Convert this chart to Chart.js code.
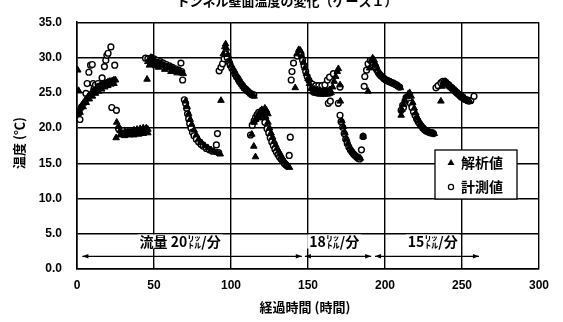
<!DOCTYPE html>
<html>
<head>
<meta charset="utf-8">
<script src="https://cdn.jsdelivr.net/npm/chart.js@4"></script>
<style>
    html, body { margin: 0; padding: 0; background: #fff; }
    #wrap { width: 563px; height: 322px; }
</style>
</head>
<body>
<div id="wrap"><canvas id="tempChart" width="563" height="322"></canvas></div>
<script>
    // --- DATA ---
    const xTicks = [0, 50, 100, 150, 200, 250, 300];
    const yTicks = [0, 5, 10, 15, 20, 25, 30, 35];

    // 解析値 (triangles)  [hours, degC]
    const analysisPoints = [
        [0.5,28.2],[1,25.3],[0.8,22.0],[1.5,22.4],[2,22.8],[3,23.2],[4,23.5],[5,23.8],[6,24.1],[7,24.4],
        [8,24.6],[9,24.9],[10,25.1],[11,25.3],[12,25.5],[13,25.7],[14,25.8],[15,26.0],[16,26.1],[17,26.2],
        [18,26.3],[19,26.4],[20,26.5],[21,26.6],[22,26.6],[23,26.7],[24,26.8],[25,26.8],
        [2,22.2],[4,23.0],[6,23.6],[8,24.1],[10,24.5],[12,24.9],[14,25.2],[16,25.5],[18,25.8],[20,26.0],[22,26.2],[24,26.3],
        [25.4,18.6],[25.8,20.8],[27,20.2],[28,19.6],[29,19.3],[30,19.2],[31,19.4],[32,19.1],[33,19.5],[34,19.2],
        [35,19.6],[36,19.3],[37,19.7],[38,19.4],[39,19.8],[40,19.5],[41,19.9],[42,19.6],[43,20.0],[44,19.7],[45,20.0],[46,19.8],
        [28,19.0],[31,18.9],[34,19.0],[37,19.0],[40,19.1],[43,19.2],[46,19.3],
        [45.5,26.9],[46,29.4],[47,29.8],[48,30.0],[49,29.9],[50,29.6],[51,29.4],[52,29.3],[53,29.2],[54,29.1],
        [55,29.0],[56,28.9],[57,28.8],[58,28.7],[59,28.6],[60,28.5],[61,28.5],[62,28.4],[63,28.3],[64,28.2],
        [65,28.1],[66,28.0],[67,27.9],[68,27.8],[69,27.7],[47,28.9],[49,29.0],[51,28.8],[53,28.6],[57,28.3],[61,28.0],[65,27.8],
        [70.5,23.8],[71.5,23.0],[72.5,22.0],[73.5,21.2],[74.5,20.5],[76,19.7],[77.5,19.0],[79,18.4],[81,17.9],
        [83,17.5],[85,17.2],[87,16.9],[89,16.7],[91,16.5],[93,16.3],[93.5,23.9],
        [95,30.5],[96,31.5],[96.5,31.9],[97,31.3],[98,30.4],[99,29.6],[100,28.9],[101,28.4],[102,28.0],[103,27.6],
        [104,27.2],[105,26.8],[106,26.5],[107,26.2],[108,25.9],[109,25.6],[110,25.4],[111,25.2],[112,25.0],
        [113,24.8],[114,24.6],[115,24.5],
        [114.8,17.4],[115.9,15.9],[113.5,19.1],[115,20.8],[116,21.2],[117,21.6],[118,22.0],[119,22.4],[120,22.6],
        [121,22.3],[122,22.8],[123,22.5],[124,22.0],[118.5,21.4],[120.5,21.8],[122.5,21.6],
        [124,20.8],[125,20.0],[126,19.3],[127,18.7],[128,18.1],[129,17.6],[130,17.1],[131,16.7],[132,16.3],
        [133,15.9],[134,15.5],[135,15.2],[136,14.9],[137,14.6],[138,14.4],
        [141.7,25.7],[143,30.5],[144,31.1],[145,31.0],[146,30.2],[147,29.3],[148,28.5],[149,27.7],[150,27.0],
        [151,26.3],[152,25.6],[153,25.2],[154,25.0],[155,24.9],[156,24.9],[157,24.8],[158,24.8],[159,24.8],
        [160,24.8],[161,24.8],[162,24.8],[163,24.8],[164,24.9],[164.3,25.4],
        [154,25.5],[156,25.4],[158,25.3],[160,25.3],[162,25.3],[164,25.4],
        [165,25.0],[166,25.8],[167,26.6],[168,27.3],[169,28.0],[169.7,28.4],[170.8,26.1],[171,23.8],
        [172,21.0],[173,20.2],[174,19.3],[175,18.5],[176,17.8],[177,17.3],[178,16.9],[179,16.6],[180,16.3],
        [181,16.1],[182,15.9],[183,15.8],[184,15.7],[185.8,18.8],
        [189,25.2],[190,28.5],[191,29.5],[192,29.9],[193,29.6],[194,29.0],[195,28.4],[196,27.9],[197,27.6],
        [198,27.3],[199,27.1],[200,26.9],[201,26.8],[202,26.7],[203,26.6],[204,26.5],[205,26.4],[206,26.3],
        [207,26.2],[208,26.0],[209,25.9],[210,25.7],
        [210.5,21.8],[211,22.6],[212,23.3],[213,23.9],[214,24.4],[215,24.8],[216,25.0],[217,24.5],[218,23.6],
        [219,22.8],[220,22.1],[221,21.5],[222,21.0],[223,20.6],[224,20.3],[225,20.0],[226,19.8],[227,19.6],
        [228,19.5],[229,19.4],[230,19.3],[231,19.3],[232,19.2],
        [236.3,23.8],[237,25.9],[238,26.3],[239,26.6],[240,26.5],[241,26.3],[242,26.1],[243,25.9],[244,25.7],
        [245,25.5],[246,25.3],[247,25.1],[248,24.9],[249,24.7],[250,24.5],[251,24.4],[252,24.2],[253,24.0],
        [254,23.9],[255,23.8]
    ];

    // 計測値 (open circles)  [hours, degC]
    const measuredPoints = [
        [0,22.0],[0.5,22.3],[1.3,22.3],[1.9,21.2],[3,23.0],[5.8,24.9],[6.6,26.3],[7.7,27.9],[8.8,28.9],[9.9,29.0],
        [10.5,26.3],[11,25.5],[12,26.1],[13.7,26.3],[14,25.9],[16.3,27.1],[17.8,28.7],[18.7,29.6],[19.4,30.3],
        [20.2,30.6],[22,31.5],[24.5,28.9],[22.6,22.9],[25.6,22.5],
        [27,19.9],[30,19.6],[33,19.4],[36,19.3],[39,19.4],[42,19.5],[45,19.7],
        [44.5,29.9],[46,29.8],[48,29.9],[50,29.8],[52,29.6],[54,29.4],[56,29.2],[58,29.0],[60,28.8],[62,28.6],
        [64,28.4],[66,28.2],[67.5,29.2],[68.6,26.8],[68,28.0],
        [69.7,24.0],[70.5,23.5],[71.2,22.8],[71.8,22.0],[72.5,21.3],[73.2,20.6],[74,20.0],[75,19.4],[76,18.9],
        [77.5,18.4],[79,18.0],[80.5,17.7],[82,17.4],[84,17.1],[86,16.9],[88,16.7],[90.5,17.6],[91.2,19.2],[92,16.5],
        [92.3,28.1],[93.5,28.6],[94.5,29.1],[95.5,29.8],[96.5,30.5],[97.5,30.0],[98.5,29.4],[99.5,28.9],[100.5,28.5],
        [101.5,28.1],[102.5,27.7],[103.5,27.3],[104.5,27.0],[105.5,26.6],[106.5,26.3],[107.5,26.0],[108.5,25.7],
        [109.5,25.5],[110.5,25.3],[111.5,25.1],[112.5,24.9],[113.5,24.8],[114.8,24.7],
        [112.7,19.0],[113.8,20.4],[115,21.0],[116,21.5],[117,21.9],[118,22.2],[119.5,21.8],[120.5,22.3],[121.5,21.6],
        [122,20.8],[123.4,19.9],[124.5,19.3],[125.5,18.6],[126.5,18.0],[127.5,17.5],[128.5,17.0],[129.5,16.6],
        [130.5,16.2],[131.5,15.9],[132.5,15.6],[133.5,15.3],[134.5,15.0],[135.5,14.8],[136.5,14.6],[137.8,16.1],[138.5,18.7],
        [139.1,26.8],[139.6,28.0],[140.6,29.2],[143,30.2],[144.5,30.8],[145.5,30.4],[146.5,29.6],[147.5,28.8],
        [148.5,28.0],[149.5,27.3],[150.5,26.8],[151.5,26.4],[153,26.2],[155,26.0],[157,26.0],[159,26.0],[161,26.1],
        [162.6,26.8],[164,27.2],[166.5,27.7],[163.2,23.5],[164.5,23.8],[169.7,23.5],[170.8,21.8],[170.8,25.8],
        [171.5,20.9],[172.5,20.1],[173.5,19.2],[174.5,18.4],[175.5,17.8],[176.5,17.3],[177.5,16.9],[178.5,16.6],
        [179.5,16.3],[180.5,16.1],[181.5,15.9],[182.5,15.7],[183.5,15.6],[184.7,16.9],[185.8,18.8],
        [186.5,25.9],[186.9,27.3],[188,28.2],[189,29.1],[190.5,29.6],[191.5,29.5],[192.5,29.2],[193.5,28.8],
        [194.5,28.3],[195.5,27.9],[196.5,27.6],[197.5,27.4],[198.5,27.2],[199.5,27.0],[200.5,26.8],[201.5,26.7],
        [202.5,26.6],[203.5,26.5],[204.5,26.4],[205.5,26.3],[206.5,26.2],[207.5,26.1],[208.5,25.9],[209.5,25.8],
        [210.5,22.5],[211.5,23.2],[212,22.9],[213,23.8],[213.7,24.3],[214.8,24.3],[215.5,24.0],[216.5,23.5],
        [217.5,22.9],[218.5,22.3],[219.5,21.8],[220.5,21.3],[221.5,20.9],[222.5,20.6],[223.5,20.3],[224.5,20.0],
        [225.5,19.8],[226.5,19.6],[227.5,19.5],[228.5,19.4],[229.5,19.3],[230.5,19.3],[231.5,19.2],
        [233.1,25.7],[234.5,26.0],[236.3,26.4],[237.5,26.6],[238.5,26.5],[239.5,26.4],[240.5,26.2],[241.5,26.0],
        [242.5,25.8],[243.5,25.6],[244.5,25.4],[245.5,25.2],[246.5,25.0],[247.5,24.8],[248.5,24.6],[249.5,24.4],
        [250.5,24.3],[251.5,24.1],[252.5,24.0],[253.5,23.9],[254.5,23.8],[255.7,23.9],[257.8,24.5]
    ];

    // flow periods: [from hour, to hour, label, label centre hour]
    const flowSpans = [
        [3.5, 146, '流量 20㍑/分', 67],
        [148, 191, '18㍑/分', 167],
        [193.5, 261, '15㍑/分', 231]
    ];
    const seriesNames = ['解析値', '計測値'];

    const jpFont = '"Noto Sans CJK JP", sans-serif';
    const numFont = '"Liberation Sans", Arial, sans-serif';

    let chart;

    function toXY(arr) {
        return arr.map(p => ({ x: p[0], y: p[1] }));
    }

    // --- EXTRA DRAWING: title, axis titles, legend box, flow arrows ---
    const decorPlugin = {
        id: 'decor',
        afterDraw(c) {
            const ctx = c.ctx;
            const xs = c.scales.x, ys = c.scales.y;
            ctx.save();
            ctx.fillStyle = '#000';
            ctx.strokeStyle = '#000';

            // title (cut at the top edge like the scan)
            ctx.font = 'bold 13px ' + jpFont;
            ctx.textAlign = 'center';
            ctx.textBaseline = 'alphabetic';
            ctx.fillText('トンネル壁面温度の変化（ケース１）', 287, 6);

            // axis titles
            ctx.font = 'bold 13px ' + jpFont;
            ctx.textBaseline = 'middle';
            ctx.fillText('経過時間 (時間)', 305, 307);
            ctx.save();
            ctx.translate(19, 143);
            ctx.rotate(-Math.PI / 2);
            ctx.fillText('温度 (℃)', 0, 0);
            ctx.restore();

            // flow arrows
            const ay = ys.getPixelForValue(1.8);
            ctx.lineWidth = 1.2;
            flowSpans.forEach(s => {
                const x1 = xs.getPixelForValue(s[0]);
                const x2 = xs.getPixelForValue(s[1]);
                ctx.beginPath();
                ctx.moveTo(x1, ay);
                ctx.lineTo(x2, ay);
                ctx.stroke();
                [[x1, 1], [x2, -1]].forEach(h => {
                    ctx.beginPath();
                    ctx.moveTo(h[0], ay);
                    ctx.lineTo(h[0] + h[1] * 6, ay - 2.2);
                    ctx.lineTo(h[0] + h[1] * 6, ay + 2.2);
                    ctx.closePath();
                    ctx.fill();
                });
                // label with white backing over the grid line
                ctx.font = 'bold 14px ' + jpFont;
                const lx = xs.getPixelForValue(s[3]);
                const ly = ys.getPixelForValue(3.9);
                const w = ctx.measureText(s[2]).width;
                ctx.fillStyle = '#fff';
                ctx.fillRect(lx - w / 2 - 2, ly - 7, w + 4, 14);
                ctx.fillStyle = '#000';
                ctx.textAlign = 'center';
                ctx.fillText(s[2], lx, ly);
            });

            // legend box
            const bx = 435, by = 150, bw = 82, bh = 49;
            ctx.fillStyle = '#fff';
            ctx.fillRect(bx, by, bw, bh);
            ctx.lineWidth = 1.3;
            ctx.strokeRect(bx, by, bw, bh);
            ctx.fillStyle = '#000';
            ctx.font = 'bold 14px ' + jpFont;
            ctx.textAlign = 'left';
            ctx.textBaseline = 'middle';
            // triangle marker
            ctx.beginPath();
            ctx.moveTo(bx + 16, by + 9);
            ctx.lineTo(bx + 19.5, by + 15);
            ctx.lineTo(bx + 12.5, by + 15);
            ctx.closePath();
            ctx.fill();
            ctx.fillText(seriesNames[0], bx + 26, by + 13);
            // circle marker
            ctx.beginPath();
            ctx.arc(bx + 16, by + 37, 2.6, 0, Math.PI * 2);
            ctx.lineWidth = 1.2;
            ctx.stroke();
            ctx.fillText(seriesNames[1], bx + 26, by + 37);

            ctx.restore();
        }
    };

    // --- CHART ---
    function initChart() {
        const ctx = document.getElementById('tempChart').getContext('2d');
        chart = new Chart(ctx, {
            type: 'scatter',
            data: {
                datasets: [
                    {
                        label: seriesNames[0],
                        data: toXY(analysisPoints),
                        pointStyle: 'triangle',
                        pointRadius: 3.8,
                        backgroundColor: '#000',
                        borderColor: '#000',
                        borderWidth: 1
                    },
                    {
                        label: seriesNames[1],
                        data: toXY(measuredPoints),
                        pointStyle: 'circle',
                        pointRadius: 2.9,
                        backgroundColor: '#fff',
                        borderColor: '#000',
                        borderWidth: 1.4
                    }
                ]
            },
            options: {
                responsive: false,
                animation: false,
                layout: { padding: { top: 13, right: 24, left: 0, bottom: 0 } },
                plugins: {
                    legend: { display: false },
                    tooltip: { enabled: false }
                },
                scales: {
                    x: {
                        type: 'linear',
                        min: 0, max: 300,
                        afterBuildTicks: s => { s.ticks = xTicks.map(v => ({ value: v })); },
                        afterFit: s => { s.height = 53; },
                        grid: { color: '#000', lineWidth: 1.4, drawTicks: false },
                        border: { color: '#000', width: 1.6 },
                        ticks: {
                            padding: 9,
                            color: '#000',
                            font: { family: numFont, size: 12, weight: 'bold' }
                        }
                    },
                    y: {
                        min: 0, max: 35,
                        afterBuildTicks: s => { s.ticks = yTicks.map(v => ({ value: v })); },
                        afterFit: s => { s.width = 77; },
                        grid: { color: '#000', lineWidth: 1.4, drawTicks: false },
                        border: { color: '#000', width: 1.6 },
                        ticks: {
                            padding: 15,
                            color: '#000',
                            font: { family: numFont, size: 12, weight: 'bold' },
                            callback: v => v.toFixed(1)
                        }
                    }
                }
            },
            plugins: [decorPlugin]
        });
    }

    window.onload = function() {
        initChart();
    };
</script>
</body>
</html>
